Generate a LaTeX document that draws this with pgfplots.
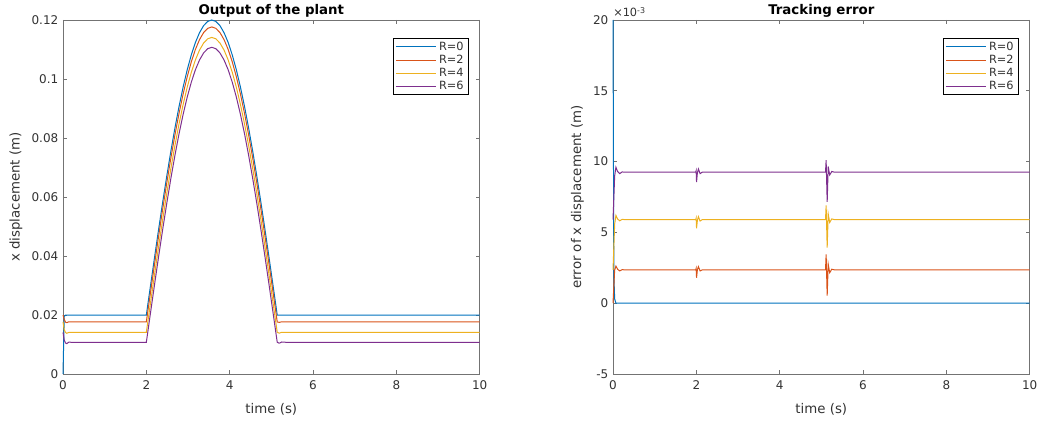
\documentclass[border=0pt]{standalone}
\usepackage{pgfplots}
\usepackage{pgfplotstable}
\pgfplotsset{compat=1.18}
\usepackage{fontspec}
\setmainfont{DejaVu Sans}
\definecolor{c1}{rgb}{0,0.447,0.741}
\definecolor{c2}{rgb}{0.85,0.325,0.098}
\definecolor{c3}{rgb}{0.929,0.694,0.125}
\definecolor{c4}{rgb}{0.494,0.184,0.556}
\definecolor{axcol}{rgb}{0.45,0.45,0.45}
\definecolor{txtcol}{rgb}{0.2,0.2,0.2}

\pgfplotstableread{
t      r0      r2      r4      r6
0.00   0.0000  0.0200  0.0177  0.0141
0.03   0.0195  0.0185  0.0150  0.0115
0.06   0.0200  0.0176  0.0141  0.0105
0.09   0.0200  0.0174  0.0138  0.0103
0.14   0.0200  0.0177  0.0141  0.0108
0.20   0.0200  0.01765 0.0141  0.01075
1.98   0.0200  0.01765 0.0141  0.01075
2.0000 0.02000 0.01765 0.01410 0.01075
2.0982 0.02980 0.02745 0.02390 0.02055
2.1963 0.03951 0.03716 0.03361 0.03026
2.2945 0.04903 0.04668 0.04313 0.03978
2.3927 0.05827 0.05592 0.05237 0.04902
2.4909 0.06714 0.06479 0.06124 0.05789
2.5890 0.07556 0.07321 0.06966 0.06631
2.6872 0.08344 0.08109 0.07754 0.07419
2.7854 0.09071 0.08836 0.08481 0.08146
2.8836 0.09730 0.09495 0.09140 0.08805
2.9817 0.10315 0.10080 0.09725 0.09390
3.0799 0.10819 0.10584 0.10229 0.09894
3.1781 0.11239 0.11004 0.10649 0.10314
3.2763 0.11569 0.11334 0.10979 0.10644
3.3744 0.11808 0.11573 0.11218 0.10883
3.4726 0.11952 0.11717 0.11362 0.11027
3.5708 0.12000 0.11765 0.11410 0.11075
3.6690 0.11952 0.11717 0.11362 0.11027
3.7671 0.11808 0.11573 0.11218 0.10883
3.8653 0.11569 0.11334 0.10979 0.10644
3.9635 0.11239 0.11004 0.10649 0.10314
4.0617 0.10819 0.10584 0.10229 0.09894
4.1598 0.10315 0.10080 0.09725 0.09390
4.2580 0.09730 0.09495 0.09140 0.08805
4.3562 0.09071 0.08836 0.08481 0.08146
4.4544 0.08344 0.08109 0.07754 0.07419
4.5525 0.07556 0.07321 0.06966 0.06631
4.6507 0.06714 0.06479 0.06124 0.05789
4.7489 0.05827 0.05592 0.05237 0.04902
4.8471 0.04903 0.04668 0.04313 0.03978
4.9452 0.03951 0.03716 0.03361 0.03026
5.0434 0.02980 0.02745 0.02390 0.02055
5.1416 0.02000 0.01765 0.01410 0.01075
5.19   0.02000 0.01750 0.01385 0.01045
5.25   0.02000 0.01770 0.01415 0.01085
5.35   0.02000 0.01765 0.01410 0.01075
10.00  0.02000 0.01765 0.01410 0.01075
}\lefttab

\pgfplotstableread{
t     e
0.00  20.0
0.02  2.0
0.04  0.3
0.07  0.0
10.0  0.0
}\errA

\pgfplotstableread{
t      e
0.00   0.00
0.04   2.35
0.07   2.62
0.11   2.40
0.16   2.28
0.22   2.37
0.30   2.35
1.985  2.35
1.995  2.45
2.005  1.80
2.025  2.35
2.05   2.58
2.09   2.28
2.14   2.35
5.10   2.35
5.115  3.45
5.14   0.53
5.165  2.75
5.20   2.15
5.25   2.40
5.32   2.35
10.0   2.35
}\errB

\pgfplotstableread{
t      e
0.00   2.35
0.04   5.60
0.07   6.20
0.11   5.95
0.16   5.82
0.22   5.92
0.30   5.90
1.985  5.90
1.995  6.00
2.005  5.29
2.025  5.85
2.05   6.11
2.09   5.80
2.14   5.90
5.10   5.90
5.115  6.90
5.14   3.92
5.165  6.30
5.20   5.70
5.25   5.95
5.32   5.90
10.0   5.90
}\errC

\pgfplotstableread{
t      e
0.00   5.90
0.04   9.00
0.07   9.60
0.11   9.30
0.16   9.15
0.22   9.27
0.30   9.25
1.985  9.25
1.995  9.35
2.005  8.55
2.025  9.20
2.05   9.48
2.09   9.15
2.14   9.25
5.10   9.25
5.115  10.10
5.14   7.15
5.165  9.65
5.20   9.05
5.25   9.30
5.32   9.25
10.0   9.25
}\errD

\pgfplotsset{mstyle/.style={
  scale only axis, width=312.5pt, height=265.5pt,
  anchor=south west,
  clip=false,
  xmin=0, xmax=10, xtick={0,2,4,6,8,10},
  tick align=inside,
  major tick length=3pt,
  axis line style={draw=axcol, line width=0.5pt},
  every tick/.style={draw=axcol, line width=0.5pt},
  tick label style={font=\fontsize{9}{10}\selectfont, text=txtcol},
  xticklabel style={yshift=-1.5pt},
  label style={font=\fontsize{10}{12}\selectfont, text=txtcol},
  /pgf/number format/assume math mode=true,
  xlabel={time (s)},
  xlabel style={yshift=-3pt},
  legend style={font=\fontsize{8.5}{10}\selectfont, draw=black, line width=0.5pt,
    at={(0.9736,0.949)}, anchor=north east, inner xsep=1.5pt, inner ysep=0.5pt,
    row sep=-2pt, text=txtcol},
  legend cell align=left,
  legend image code/.code={\draw[#1] (0pt,0pt) -- (30pt,0pt);},
  every axis plot/.append style={line width=0.75pt},
}}

\begin{document}
\begin{tikzpicture}
\useasboundingbox (0,0) rectangle (777.75pt,316.5pt);
\begin{axis}[mstyle, at={(47.25pt,36pt)},
  ylabel={x displacement (m)},
  ymin=0, ymax=0.12,
  ytick={0,0.02,0.04,0.06,0.08,0.1,0.12},
  yticklabels={0,0.02,0.04,0.06,0.08,0.1,0.12},
  ylabel style={yshift=0pt},
]
\addplot[c1] table[x=t,y=r0]{\lefttab};
\addplot[c2] table[x=t,y=r2]{\lefttab};
\addplot[c3] table[x=t,y=r4]{\lefttab};
\addplot[c4] table[x=t,y=r6]{\lefttab};
\legend{R=0,R=2,R=4,R=6}
\node[anchor=base, inner sep=0pt, yshift=4pt, text=black,
  font=\bfseries\fontsize{10}{12}\selectfont] at (rel axis cs:0.5,1) {Output of the plant};
\end{axis}
\begin{axis}[mstyle, at={(459.75pt,36pt)},
  ylabel={error of x displacement (m)},
  ymin=-5, ymax=20,
  ytick={-5,0,5,10,15,20},
  yticklabels={-5,0,5,10,15,20},
  ylabel style={yshift=0pt},
]
\addplot[c1] table[x=t,y=e]{\errA};
\addplot[c2] table[x=t,y=e]{\errB};
\addplot[c3] table[x=t,y=e]{\errC};
\addplot[c4] table[x=t,y=e]{\errD};
\legend{R=0,R=2,R=4,R=6}
\node[anchor=south west, inner sep=0pt, yshift=2pt, text=txtcol,
  font=\fontsize{8.5}{10}\selectfont] at (rel axis cs:0,1) {×10\textsuperscript{-3}};
\node[anchor=base, inner sep=0pt, yshift=4pt, text=black,
  font=\bfseries\fontsize{10}{12}\selectfont] at (rel axis cs:0.5,1) {Tracking error};
\end{axis}
\end{tikzpicture}
\end{document}
